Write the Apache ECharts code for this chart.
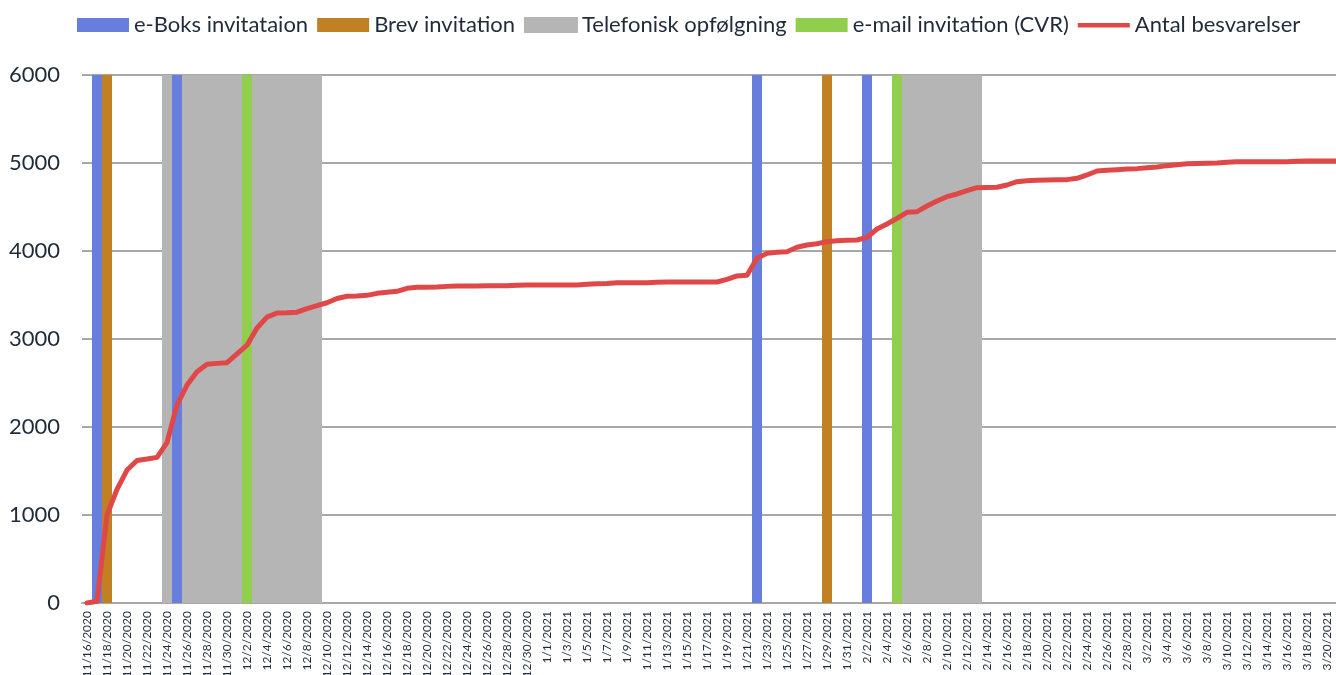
<!DOCTYPE html>
<html>
<head>
<meta charset="utf-8">
<script src="https://cdn.jsdelivr.net/npm/echarts@6/dist/echarts.min.js"></script>
<style>
html,body{margin:0;padding:0;background:#fff;}
#chart{width:1336px;height:675px;}
</style>
</head>
<body>
<div id="chart"></div>
<script>
// Category dates (daily)
var categories = [
'11/16/2020','11/17/2020','11/18/2020','11/19/2020','11/20/2020','11/21/2020','11/22/2020','11/23/2020','11/24/2020','11/25/2020',
'11/26/2020','11/27/2020','11/28/2020','11/29/2020','11/30/2020','12/1/2020','12/2/2020','12/3/2020','12/4/2020','12/5/2020',
'12/6/2020','12/7/2020','12/8/2020','12/9/2020','12/10/2020','12/11/2020','12/12/2020','12/13/2020','12/14/2020','12/15/2020',
'12/16/2020','12/17/2020','12/18/2020','12/19/2020','12/20/2020','12/21/2020','12/22/2020','12/23/2020','12/24/2020','12/25/2020',
'12/26/2020','12/27/2020','12/28/2020','12/29/2020','12/30/2020','12/31/2020','1/1/2021','1/2/2021','1/3/2021','1/4/2021',
'1/5/2021','1/6/2021','1/7/2021','1/8/2021','1/9/2021','1/10/2021','1/11/2021','1/12/2021','1/13/2021','1/14/2021',
'1/15/2021','1/16/2021','1/17/2021','1/18/2021','1/19/2021','1/20/2021','1/21/2021','1/22/2021','1/23/2021','1/24/2021',
'1/25/2021','1/26/2021','1/27/2021','1/28/2021','1/29/2021','1/30/2021','1/31/2021','2/1/2021','2/2/2021','2/3/2021',
'2/4/2021','2/5/2021','2/6/2021','2/7/2021','2/8/2021','2/9/2021','2/10/2021','2/11/2021','2/12/2021','2/13/2021',
'2/14/2021','2/15/2021','2/16/2021','2/17/2021','2/18/2021','2/19/2021','2/20/2021','2/21/2021','2/22/2021','2/23/2021',
'2/24/2021','2/25/2021','2/26/2021','2/27/2021','2/28/2021','3/1/2021','3/2/2021','3/3/2021','3/4/2021','3/5/2021',
'3/6/2021','3/7/2021','3/8/2021','3/9/2021','3/10/2021','3/11/2021','3/12/2021','3/13/2021','3/14/2021','3/15/2021',
'3/16/2021','3/17/2021','3/18/2021','3/19/2021','3/20/2021','3/21/2021'
];

// Cumulative responses
var antalBesvarelser = [
0,20,1000,1292,1511,1620,1636,1655,1822,2250,
2477,2629,2712,2723,2731,2830,2930,3125,3249,3295,
3297,3305,3345,3380,3412,3461,3485,3489,3496,3519,
3530,3542,3576,3587,3587,3591,3598,3602,3602,3602,
3606,3606,3606,3610,3614,3614,3614,3614,3614,3614,
3621,3628,3632,3640,3640,3640,3640,3644,3648,3648,
3648,3648,3648,3648,3678,3716,3724,3917,3973,3985,
3992,4042,4068,4083,4106,4117,4121,4125,4155,4250,
4307,4371,4439,4447,4511,4568,4617,4648,4686,4720,
4722,4724,4750,4788,4799,4803,4807,4811,4811,4826,
4864,4909,4917,4924,4932,4936,4947,4955,4970,4981,
4992,4995,4998,5000,5008,5015,5015,5015,5015,5015,
5015,5019,5023,5023,5023,5023
];

// Event days (drawn as full-height columns)
var eventHeight = 6000;
var eBoksDays = ['11/17/2020','11/25/2020','1/22/2021','2/2/2021'];
var brevDays = ['11/18/2020','1/29/2021'];
var telefonDays = [
'11/24/2020','11/25/2020','11/26/2020','11/27/2020','11/28/2020','11/29/2020','11/30/2020','12/1/2020',
'12/2/2020','12/3/2020','12/4/2020','12/5/2020','12/6/2020','12/7/2020','12/8/2020','12/9/2020',
'2/6/2021','2/7/2021','2/8/2021','2/9/2021','2/10/2021','2/11/2021','2/12/2021','2/13/2021'
];
var emailDays = ['12/2/2020','2/5/2021'];

var yTicks = [0,1000,2000,3000,4000,5000,6000];

function eventSeries(days){
  return categories.map(function(c){ return days.indexOf(c) >= 0 ? eventHeight : '-'; });
}

var textColor = '#1F2B3A';
var gridColor = '#A8A8A8';
var font = 'Lato, "Open Sans", sans-serif';

function barSeries(name, days, color, z, border){
  return {name:name, type:'bar', data: eventSeries(days), barWidth:'100%', barGap:'-100%',
    itemStyle:{color:color, borderColor:color, borderWidth:border}, z:z};
}

var chart = echarts.init(document.getElementById('chart'), null, {renderer:'canvas'});
chart.setOption({
  animation: false,
  backgroundColor: '#ffffff',
  legend: {
    top: 9,
    left: 72,
    itemWidth: 52,
    itemHeight: 14,
    itemGap: 9,
    textStyle: {fontSize: 22, color: textColor, fontFamily: font},
    data: [
      {name:'e-Boks invitataion', icon:'rect'},
      {name:'Brev invitation', icon:'rect'},
      {name:'Telefonisk opfølgning', icon:'rect'},
      {name:'e-mail invitation (CVR)', icon:'rect'},
      {name:'Antal besvarelser', icon:'path://M0,0 M52,14 M0,5 L52,5 L52,9.5 L0,9.5 Z'}
    ]
  },
  grid: {left: 82, width: 1260, top: 75, height: 528, containLabel: false, outerBoundsMode: 'none'},
  xAxis: {
    type: 'category',
    data: categories,
    boundaryGap: true,
    axisLine: {lineStyle: {color: gridColor, width: 2}},
    axisTick: {show: false},
    axisLabel: {interval: 1, rotate: 90, fontSize: 12, color: textColor, fontFamily: font, margin: 8}
  },
  yAxis: {
    type: 'value',
    min: yTicks[0],
    max: yTicks[yTicks.length-1],
    interval: 1000,
    axisLine: {show: false},
    axisTick: {show: false},
    axisLabel: {fontSize: 22, color: textColor, fontFamily: font, margin: 22, formatter: function(v){ return String(v); }},
    splitLine: {lineStyle: {color: gridColor, width: 2}}
  },
  series: [
    barSeries('Telefonisk opfølgning', telefonDays, '#B5B5B5', 2, 1.5),
    barSeries('e-Boks invitataion', eBoksDays, '#687EDD', 3, 0),
    barSeries('Brev invitation', brevDays, '#C18024', 3, 0),
    barSeries('e-mail invitation (CVR)', emailDays, '#92CE4E', 3, 0),
    {name:'Antal besvarelser', type:'line', data: antalBesvarelser, symbol:'none', showSymbol:false,
     lineStyle:{color:'#E04848', width:5, join:'round', cap:'round'}, itemStyle:{color:'#E04848'}, z:5}
  ]
});
</script>
</body>
</html>
